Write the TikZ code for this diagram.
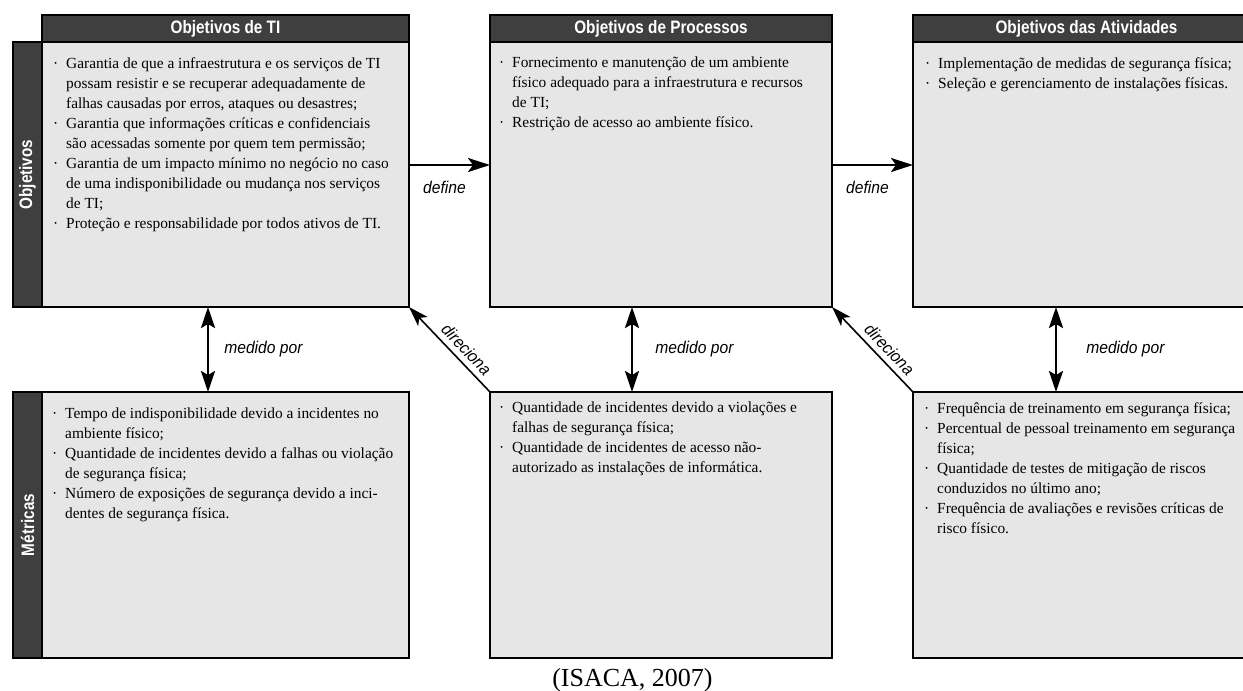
\documentclass[tikz,border=0pt]{standalone}
\usepackage{fontspec}
\setmainfont{Liberation Serif}
\newfontfamily\hdfont[FakeStretch=0.85]{Liberation Sans}
\newfontfamily\lbfont[FakeStretch=0.92]{Liberation Sans}
\usetikzlibrary{arrows.meta,calc}
\definecolor{panelgray}{HTML}{E6E6E6}
\definecolor{hdrgray}{HTML}{3F3F3F}
% bullet and continuation indent for the list lines
\newcommand\bl{\makebox[13pt][l]{·}}
\newcommand\ct{\hspace*{13pt}}
\begin{document}
\begin{tikzpicture}[x=1pt,y=-1pt,
  panel/.style={draw=black, line width=1.6pt, fill=panelgray, inner sep=0, outer sep=0, anchor=north west},
  hdr/.style={draw=black, line width=1.6pt, fill=hdrgray, inner sep=0, outer sep=0, anchor=north west,
    text=white, font=\hdfont\bfseries\fontsize{18}{20}\selectfont},
  striptext/.style={text=white, inner sep=0, font=\hdfont\bfseries\fontsize{18}{20}\selectfont},
  body/.style={anchor=north west, inner sep=0, align=left, font=\fontsize{15.4}{20}\selectfont},
  lbl/.style={font=\lbfont\itshape\fontsize{17}{20}\selectfont, inner sep=0},
  arr/.style={line width=2.4pt, -{Stealth[length=22pt,width=14pt,inset=5pt]}},
  darr/.style={line width=2.6pt, {Stealth[length=21pt,width=14pt,inset=4pt]}-{Stealth[length=21pt,width=14pt,inset=4pt]}},
  thinarr/.style={line width=1.6pt, -{Stealth[length=20pt,width=13pt,inset=5pt]}},
]
\clip (0,0) rectangle (1243,691);
\fill[white] (0,0) rectangle (1243,691);

% upper row: objectives
\node[panel, minimum width=367, minimum height=265] (b1) at (42,42) {};
\node[panel, minimum width=342, minimum height=265] (b2) at (490,42) {};
\node[panel, minimum width=347, minimum height=265] (b3) at (913,42) {};
\node[hdr, minimum width=367, minimum height=27] (h1) at (42,15) {Objetivos de TI};
\node[hdr, minimum width=342, minimum height=27] (h2) at (490,15) {Objetivos de Processos};
\node[hdr, minimum width=347, minimum height=27] (h3) at (913,15) {Objetivos das Atividades};
\node[hdr, minimum width=29, minimum height=265] (s1) at (13,42) {};
\node[striptext, rotate=90] (s1t) at (s1.center) {Objetivos};

% lower row: metrics
\node[panel, minimum width=367, minimum height=266] (b4) at (42,392) {};
\node[panel, minimum width=342, minimum height=266] (b5) at (490,392) {};
\node[panel, minimum width=347, minimum height=266] (b6) at (913,392) {};
\node[hdr, minimum width=29, minimum height=266] (s4) at (13,392) {};
\node[striptext, rotate=90] (s4t) at (s4.center) {Métricas};

% list texts (north edge = first baseline minus ascender height)
\node[body] (t1) at (53,57) {\bl Garantia de que a infraestrutura e os serviços de TI\\
\ct possam resistir e se recuperar adequadamente de\\
\ct falhas causadas por erros, ataques ou desastres;\\
\bl Garantia que informações críticas e confidenciais\\
\ct são acessadas somente por quem tem permissão;\\
\bl Garantia de um impacto mínimo no negócio no caso\\
\ct de uma indisponibilidade ou mudança nos serviços\\
\ct de TI;\\
\bl Proteção e responsabilidade por todos ativos de TI.};
\node[body] (t2) at (499,57) {\bl Fornecimento e manutenção de um ambiente\\
\ct físico adequado para a infraestrutura e recursos\\
\ct de TI;\\
\bl Restrição de acesso ao ambiente físico.};
\node[body] (t3) at (925,57) {\bl Implementação de medidas de segurança física;\\
\bl Seleção e gerenciamento de instalações físicas.};
\node[body] (t4) at (52,408) {\bl Tempo de indisponibilidade devido a incidentes no\\
\ct ambiente físico;\\
\bl Quantidade de incidentes devido a falhas ou violação\\
\ct de segurança física;\\
\bl Número de exposições de segurança devido a inci-\\
\ct dentes de segurança física.};
\node[body] (t5) at (499,402) {\bl Quantidade de incidentes devido a violações e\\
\ct falhas de segurança física;\\
\bl Quantidade de incidentes de acesso não-\\
\ct autorizado as instalações de informática.};
\node[body] (t6) at (924,402) {\bl Frequência de treinamento em segurança física;\\
\bl Percentual de pessoal treinamento em segurança\\
\ct física;\\
\bl Quantidade de testes de mitigação de riscos\\
\ct conduzidos no último ano;\\
\bl Frequência de avaliações e revisões críticas de\\
\ct risco físico.};

% "define" connectors
\draw[arr] ([yshift=9.5pt]b1.east) -- node[lbl, below=15pt, xshift=-5pt] (d1) {define} ([yshift=9.5pt]b2.west);
\draw[arr] ([yshift=9.5pt]b2.east) -- node[lbl, below=15pt, xshift=-5pt] (d2) {define} ([yshift=9.5pt]b3.west);

% "medido por" connectors
\draw[darr] ([xshift=-17.5pt]b1.south) -- node[lbl, right=15pt] (m1) {medido por} ([xshift=-17.5pt]b4.north);
\draw[darr] ([xshift=-29pt]b2.south) -- node[lbl, right=22pt] (m2) {medido por} ([xshift=-29pt]b5.north);
\draw[darr] ([xshift=-30.5pt]b3.south) -- node[lbl, right=29pt] (m3) {medido por} ([xshift=-30.5pt]b6.north);

% "direciona" connectors
\draw[thinarr] (b5.north west) -- (b1.south east);
\path (b1.south east) -- node[lbl, sloped, pos=0.6, above=6pt] (r1) {direciona} (b5.north west);
\draw[thinarr] (b6.north west) -- (b2.south east);
\path (b2.south east) -- node[lbl, sloped, pos=0.6, above=6pt] (r2) {direciona} (b6.north west);

% source
\node[anchor=base, inner sep=0, font=\fontsize{26}{28}\selectfont] (src) at (632.5,686) {(ISACA, 2007)};
\end{tikzpicture}
\end{document}
